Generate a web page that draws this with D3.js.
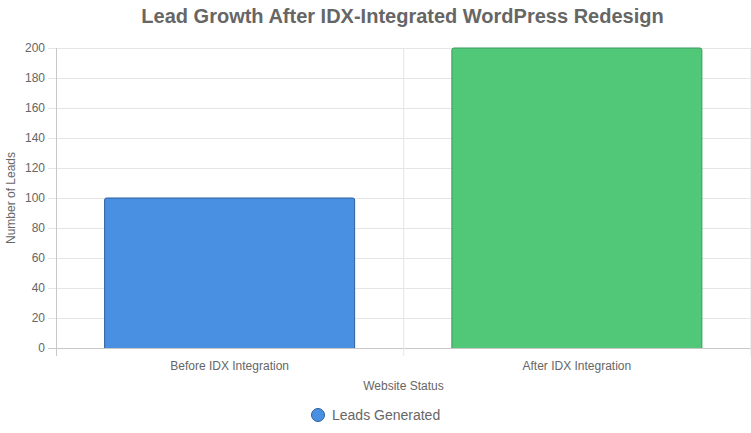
<!DOCTYPE html>
<html><head><meta charset="utf-8">
<script src="https://cdn.jsdelivr.net/npm/d3@7/dist/d3.min.js"></script>
<style>body{margin:0;background:#fff;font-family:Arial,"Liberation Sans",sans-serif}</style>
</head><body><div id="chart"></div>
<script>
const categories = ["Before IDX Integration", "After IDX Integration"];
const leads = [100, 200];
const fills = ["#4a90e2", "#50c878"];
const strokes = ["#2c5f9e", "#3a9a5c"];
const yTicks = d3.range(0, 201, 20);

const W = 751, H = 433;
const m = {left: 56, right: 0, top: 48, bottom: 85};
const svg = d3.select("#chart").append("svg").attr("width", W).attr("height", H);

const x = d3.scaleBand().domain(categories).range([m.left, W - 0.5]);
const y = d3.scaleLinear().domain([0, 200]).range([H - m.bottom, m.top]);

// grid
svg.append("g").selectAll("line").data(yTicks).join("line")
  .attr("x1", m.left - 8).attr("x2", W).attr("y1", d => y(d) + 0.5).attr("y2", d => y(d) + 0.5)
  .attr("stroke", d => d === 0 ? "#c8c8c8" : "#e5e5e5");
const vx = [m.left, x(categories[1]), W - 0.5];
svg.append("g").selectAll("line").data(vx).join("line")
  .attr("x1", d => d + 0.5).attr("x2", d => d + 0.5).attr("y1", m.top).attr("y2", H - m.bottom + 8)
  .attr("stroke", (d, i) => i === 0 ? "#c8c8c8" : "#e5e5e5");

svg.append("g").selectAll("text").data(yTicks).join("text")
  .attr("x", m.left - 11).attr("y", d => y(d) + 4).attr("text-anchor", "end")
  .attr("font-size", 12).attr("fill", "#666").text(d => d);

svg.append("g").selectAll("text").data(categories).join("text")
  .attr("x", d => x(d) + x.bandwidth() / 2).attr("y", H - m.bottom + 22).attr("text-anchor", "middle")
  .attr("font-size", 12).attr("fill", "#666").text(d => d);

// bars
const bw = x.bandwidth() * 0.72;
svg.append("g").selectAll("path").data(leads).join("path")
  .attr("d", (d, i) => {
    const x0 = x(categories[i]) + (x.bandwidth() - bw) / 2, x1 = x0 + bw;
    const y0 = y(d), yb = y(0), r = 2;
    return `M${x0},${yb}V${y0 + r}Q${x0},${y0} ${x0 + r},${y0}H${x1 - r}Q${x1},${y0} ${x1},${y0 + r}V${yb}`;
  })
  .attr("fill", (d, i) => fills[i]).attr("stroke", (d, i) => strokes[i]).attr("stroke-width", 1);

svg.append("text").attr("x", W / 2 + 27).attr("y", 23).attr("text-anchor", "middle")
  .attr("font-size", 20).attr("font-weight", "bold").attr("fill", "#666")
  .text("Lead Growth After IDX-Integrated WordPress Redesign");

svg.append("text").attr("x", (m.left + W) / 2).attr("y", 390).attr("text-anchor", "middle")
  .attr("font-size", 12).attr("fill", "#666").text("Website Status");

svg.append("text").attr("transform", `translate(15,${(m.top + H - m.bottom) / 2}) rotate(-90)`)
  .attr("text-anchor", "middle").attr("font-size", 12).attr("fill", "#666").text("Number of Leads");

const lg = svg.append("g");
lg.append("circle").attr("cx", 318).attr("cy", 415).attr("r", 6.5)
  .attr("fill", fills[0]).attr("stroke", strokes[0]);
lg.append("text").attr("x", 332).attr("y", 420).attr("font-size", 14).attr("fill", "#666").text("Leads Generated");
</script></body></html>
